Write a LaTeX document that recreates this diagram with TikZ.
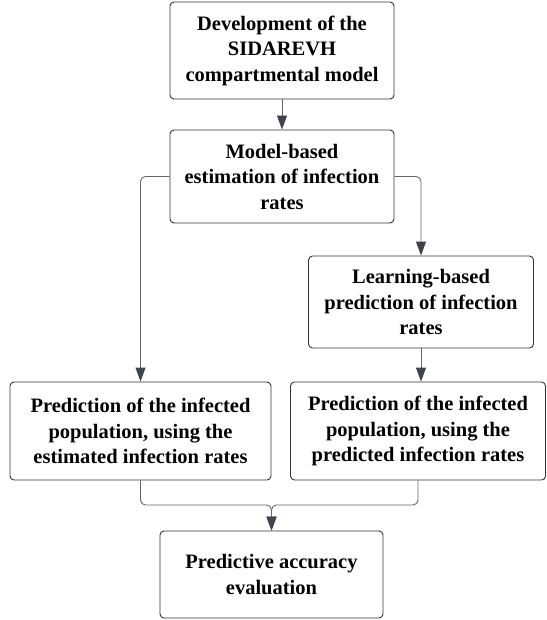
\documentclass[tikz,border=0pt]{standalone}
\usepackage{fontspec}
\setmainfont{Liberation Serif}
\usetikzlibrary{arrows.meta,positioning,calc}
\definecolor{tipgray}{RGB}{62,68,80}

\begin{document}
\begin{tikzpicture}[x=1pt,y=1pt,
  box/.style={draw=black!80,line width=0.9pt,rounded corners=4pt,align=center,
    font=\fontsize{20.5}{25.5}\selectfont\bfseries,inner sep=2pt},
  link/.style={draw=black!60,line width=0.9pt,rounded corners=5pt,
    -{Triangle[length=14pt,width=10pt,fill=tipgray,color=tipgray]}}]
\useasboundingbox (0,0) rectangle (546,-620);
\node[box,minimum width=224,minimum height=97] (dev) at (282,-50.5)
  {Development of the\\SIDAREVH\\compartmental model};
\node[box,minimum width=224,minimum height=93] (est) at (282,-176.5)
  {Model-based\\estimation of infection\\rates};
\node[box,minimum width=225,minimum height=92] (learn) at (421,-302)
  {Learning-based\\prediction of infection\\rates};
\node[box,minimum width=261,minimum height=98] (predL) at (140.5,-431)
  {Prediction of the infected\\population, using the\\estimated infection rates};
\node[box,minimum width=255,minimum height=98] (predR) at (418,-431)
  {Prediction of the infected\\population, using the\\predicted infection rates};
\node[box,minimum width=223,minimum height=87] (acc) at (271.5,-574.5)
  {Predictive accuracy\\evaluation};
\coordinate (join) at (271.5,-505);
% connectors
\draw[link] (dev) -- (est);
\draw[link] (est.west) -| (predL.north);
\draw[link] (est.east) -| (learn.north);
\draw[link] (learn.south) -- (learn.south |- predR.north);
\draw[link] (predL.south) |- (join) -- (acc.north);
\draw[link] (predR.south) |- (join) -- (acc.north);
\end{tikzpicture}
\end{document}
